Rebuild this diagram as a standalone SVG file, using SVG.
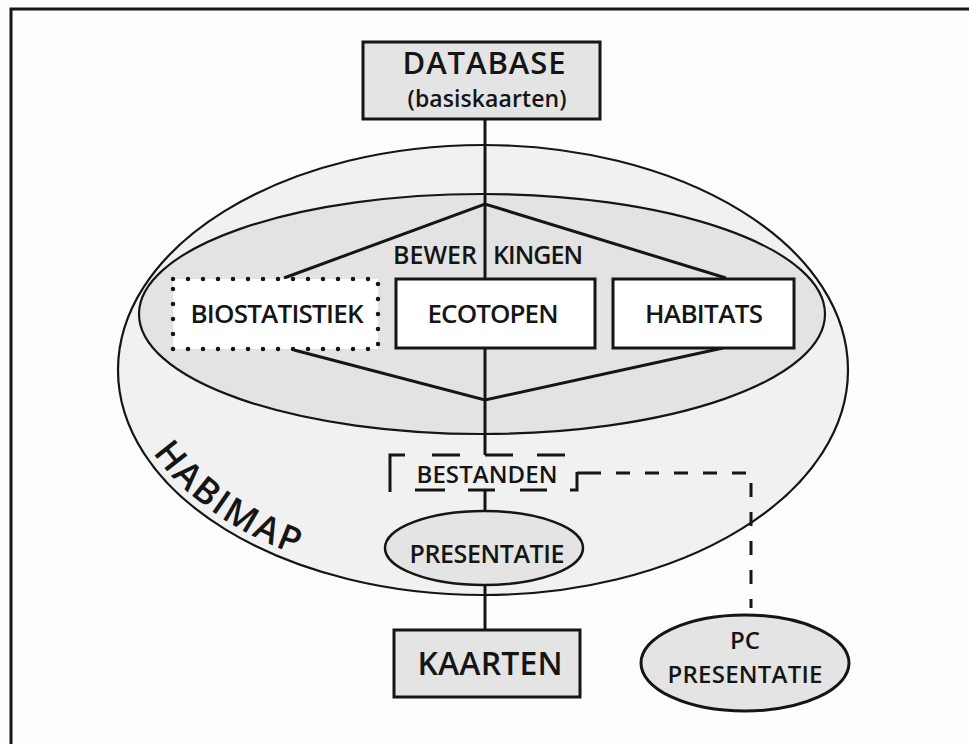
<svg xmlns="http://www.w3.org/2000/svg" width="969" height="744" viewBox="0 0 969 744">
<defs>
<style>
.t{font-family:"Open Sans","Noto Sans","Liberation Sans",sans-serif;font-weight:600;fill:#151515;text-anchor:middle}
.box{stroke:#151515;stroke-width:3}
.ln{stroke:#151515;stroke-width:3;fill:none;stroke-linecap:butt}
.dash{stroke:#151515;stroke-width:3;fill:none;stroke-dasharray:14 15}
.gray{fill:#e4e4e4}
</style>
</defs>
<rect x="0" y="0" width="969" height="744" fill="#fdfdfd"/>
<!-- frame -->
<path d="M11,744 L11,9 L969,9" fill="none" stroke="#151515" stroke-width="3"/>

<g id="habimap">
<ellipse cx="483" cy="370" rx="365" ry="225" fill="#f1f1f1" stroke="#151515" stroke-width="2.2"/>
<path id="habiPath" d="M147.5,444.2 A357,217 0 0,0 360.9,573.9" fill="none"/>
<text class="t" style="text-anchor:start" font-size="36"><textPath href="#habiPath" startOffset="10" textLength="178" lengthAdjust="spacing">HABIMAP</textPath></text>
</g>
<g id="bewerkingen">
<ellipse cx="482" cy="314" rx="343" ry="120" fill="#e3e3e3" stroke="#151515" stroke-width="2.2"/>
<text class="t" x="435" y="264" font-size="25" textLength="84">BEWER</text>
<text class="t" x="538" y="264" font-size="25" textLength="90">KINGEN</text>
</g>

<g id="connectors">
<path class="ln" d="M485,120 L485,278"/>
<path class="ln" d="M284,278 L485,204 L726,278"/>
<path class="ln" d="M294,350 L485,400 L723,348"/>
<path class="ln" d="M485,348 L485,455"/>
<path class="ln" d="M485,491 L485,512"/>
<path class="ln" d="M485,585 L485,630"/>
<path class="dash" d="M587,473 L751,473 L751,608"/>
</g>

<g id="database">
<rect class="box gray" x="363" y="42" width="237" height="77"/>
<text class="t" x="484" y="74" font-size="31" textLength="163">DATABASE</text>
<text class="t" x="487" y="107" font-size="23" textLength="159">(basiskaarten)</text>
</g>

<g id="biostatistiek">
<rect x="173" y="279" width="205" height="70" fill="#ffffff" stroke="#151515" stroke-width="4.5" stroke-linecap="round" stroke-dasharray="0 15"/>
<text class="t" x="277" y="323" font-size="26" textLength="173">BIOSTATISTIEK</text>
</g>

<g id="ecotopen">
<rect class="box" x="396" y="279" width="199" height="69" fill="#ffffff"/>
<text class="t" x="493" y="323" font-size="26" textLength="131">ECOTOPEN</text>
</g>

<g id="habitats">
<rect class="box" x="613" y="279" width="181" height="69" fill="#ffffff"/>
<text class="t" x="704" y="323" font-size="26" textLength="118">HABITATS</text>
</g>

<g id="bestanden">
<g class="ln">
<path d="M390,492 L390,455 L405,455"/>
<path d="M432,455 L460,455"/>
<path d="M485,455 L513,455"/>
<path d="M537,455 L565,455"/>
<path d="M415,490 L445,490"/>
<path d="M468,490 L495,490"/>
<path d="M520,490 L547,490"/>
<path d="M570,490 L577,490 L577,472"/>
<path d="M577,473 L587,473"/>
</g>
<text class="t" x="487" y="483" font-size="24" textLength="141">BESTANDEN</text>
</g>

<g id="presentatie">
<ellipse cx="484" cy="548" rx="99" ry="37" class="gray" stroke="#151515" stroke-width="2.5"/>
<text class="t" x="487" y="563" font-size="25" textLength="155">PRESENTATIE</text>
</g>

<g id="kaarten">
<rect class="box gray" x="394" y="630" width="186" height="67"/>
<text class="t" x="490" y="675" font-size="32" textLength="145">KAARTEN</text>
</g>

<g id="pcpresentatie">
<ellipse cx="745" cy="663" rx="104" ry="48" class="gray" stroke="#151515" stroke-width="3"/>
<text class="t" x="745" y="649" font-size="24" textLength="30">PC</text>
<text class="t" x="745" y="683" font-size="24" textLength="155">PRESENTATIE</text>
</g>
</svg>
